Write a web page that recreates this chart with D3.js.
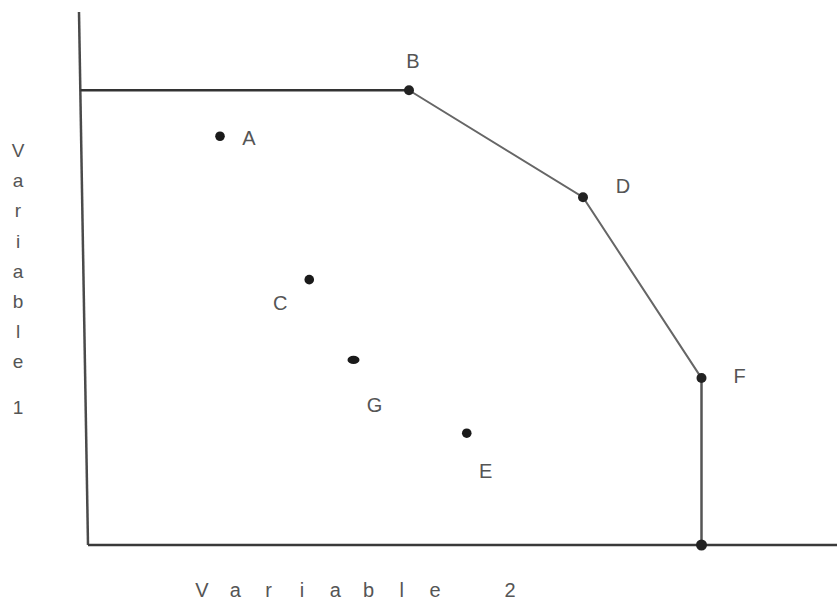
<!DOCTYPE html>
<html>
<head>
<meta charset="utf-8">
<script src="https://cdn.jsdelivr.net/npm/d3@7"></script>
<style>
  body { margin: 0; background: #fff; }
  svg text { font-family: "Liberation Sans", Arial, sans-serif; fill: #555; }
</style>
</head>
<body>
<div id="chart"></div>
<script>
// points on the frontier (variable 2, variable 1)
const frontierNames = ["B", "D", "F"];
const frontierVar2 = [42.8, 66.0, 81.8];
const frontierVar1 = [85.0, 65.0, 31.2];

// points inside the frontier
const innerNames = ["A", "C", "G", "E"];
const innerVar2 = [17.6, 29.5, 35.4, 50.5];
const innerVar1 = [76.4, 49.6, 34.6, 20.9];

const xLabel = "Variable 2";
const yLabel = "Variable 1";

const width = 837, height = 610;
const margin = {top: 10, right: 0, bottom: 65, left: 88};

const svg = d3.select("#chart").append("svg")
  .attr("width", width)
  .attr("height", height);

const x = d3.scaleLinear().domain([0, 100]).range([margin.left, width - margin.right + 1]);
const y = d3.scaleLinear().domain([0, 100]).range([height - margin.bottom, margin.top]);

// the y axis leans a little to the left at the top
const lean = 9;
const axisX = v => x(0) - lean * (v / 100);

// axes
svg.append("line")
  .attr("x1", axisX(100)).attr("y1", y(100) + 2)
  .attr("x2", axisX(0)).attr("y2", y(0))
  .attr("stroke", "#4a4a4a").attr("stroke-width", 2.5);

svg.append("line")
  .attr("x1", x(0)).attr("y1", y(0))
  .attr("x2", x(100)).attr("y2", y(0))
  .attr("stroke", "#3a3a3a").attr("stroke-width", 2.5);

// frontier
const frontier = frontierNames.map((n, i) => ({name: n, v2: frontierVar2[i], v1: frontierVar1[i]}));
const last = frontier[frontier.length - 1];

// flat part from the axis to B
svg.append("line")
  .attr("x1", axisX(frontier[0].v1)).attr("y1", y(frontier[0].v1))
  .attr("x2", x(frontier[0].v2)).attr("y2", y(frontier[0].v1))
  .attr("stroke", "#333").attr("stroke-width", 2.5);

const line = d3.line().x(d => x(d.v2)).y(d => y(d.v1));
svg.append("path")
  .datum(frontier)
  .attr("d", line)
  .attr("fill", "none")
  .attr("stroke", "#666")
  .attr("stroke-width", 2);

// vertical drop from F to the x axis
svg.append("line")
  .attr("x1", x(last.v2)).attr("y1", y(last.v1))
  .attr("x2", x(last.v2)).attr("y2", y(0))
  .attr("stroke", "#555").attr("stroke-width", 2.5);

svg.selectAll(".fdot")
  .data(frontier)
  .join("circle")
  .attr("class", "fdot")
  .attr("cx", d => x(d.v2))
  .attr("cy", d => y(d.v1))
  .attr("r", 5)
  .attr("fill", "#222");

svg.append("circle")
  .attr("cx", x(last.v2)).attr("cy", y(0))
  .attr("r", 5.5).attr("fill", "#222");

const inner = innerNames.map((n, i) => ({name: n, v2: innerVar2[i], v1: innerVar1[i]}));
svg.selectAll(".idot")
  .data(inner)
  .join("ellipse")
  .attr("class", "idot")
  .attr("cx", d => x(d.v2))
  .attr("cy", d => y(d.v1))
  .attr("rx", d => d.name === "G" ? 6 : 4.8)
  .attr("ry", d => d.name === "G" ? 4.2 : 4.8)
  .attr("fill", "#1a1a1a");

// label placement relative to each point
const labelOffset = {
  A: [29, 3], B: [4, -28], D: [40, -10], F: [38, 0],
  C: [-29, 25], G: [21, 47], E: [19, 40]
};

svg.selectAll(".plabel")
  .data(frontier.concat(inner))
  .join("text")
  .attr("class", "plabel")
  .attr("x", d => x(d.v2) + labelOffset[d.name][0])
  .attr("y", d => y(d.v1) + labelOffset[d.name][1])
  .attr("text-anchor", "middle")
  .attr("dominant-baseline", "middle")
  .attr("font-size", 20)
  .text(d => d.name);

// axis titles, letters spaced out (word gap a little over two letter slots)
const xChars = xLabel.replace(" ", "").split("");
const xSpacing = 33.3;
svg.selectAll(".xl")
  .data(xChars)
  .join("text")
  .attr("class", "xl")
  .attr("x", (d, i) => i < 8 ? 202 + i * xSpacing : 202 + 7 * xSpacing + 75)
  .attr("y", 597)
  .attr("text-anchor", "middle")
  .attr("font-size", 20)
  .text(d => d);

const yChars = yLabel.replace(" ", "").split("");
svg.selectAll(".yl")
  .data(yChars)
  .join("text")
  .attr("class", "yl")
  .attr("x", 18)
  .attr("y", (d, i) => i < 8 ? 157 + i * 30.2 : 157 + 7 * 30.2 + 46)
  .attr("text-anchor", "middle")
  .attr("font-size", 19)
  .text(d => d);
</script>
</body>
</html>
